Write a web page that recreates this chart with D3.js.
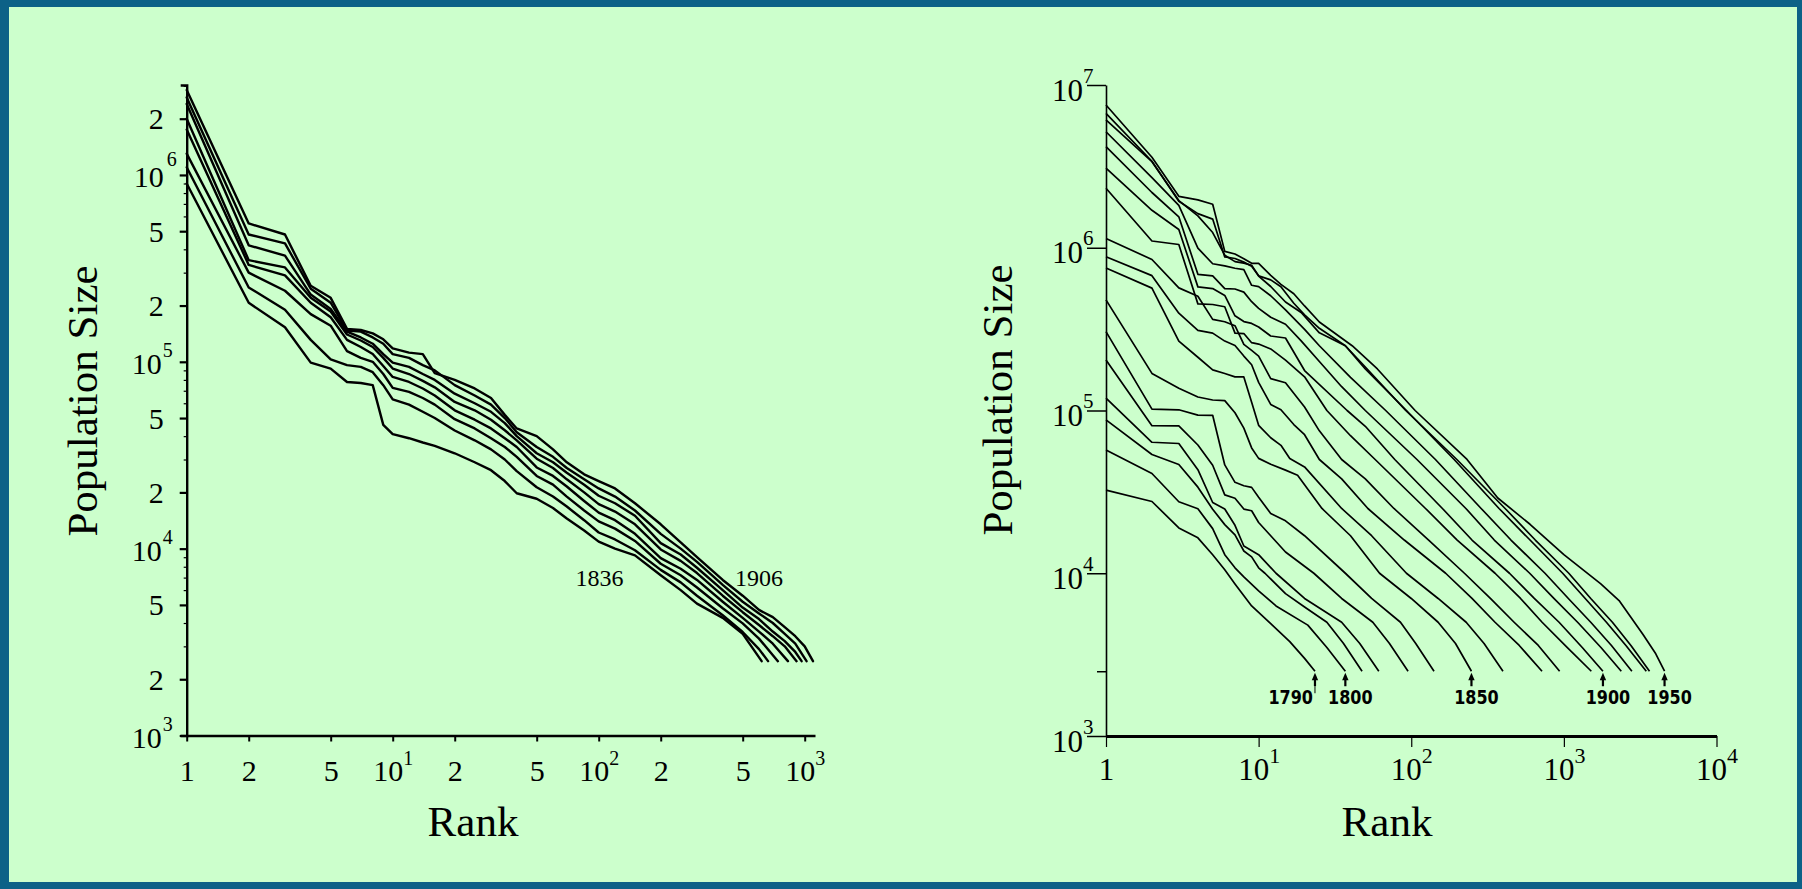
<!DOCTYPE html>
<html>
<head>
<meta charset="utf-8">
<script src="https://cdn.jsdelivr.net/npm/d3@7"></script>
<style>
html,body{margin:0;padding:0;overflow:hidden;background:#0c6187;}
svg{display:block;}
text{font-family:"Liberation Serif","Times New Roman",serif;fill:#000;}
</style>
</head>
<body>
<svg id="fig" width="1802" height="889"></svg>
<script>
// ---------------- LEFT PANEL DATA (rank, population) ----------------
const france1836 = [[1,9.0e5],[2,2.07e5],[3,1.53e5],[4,9.9e4],[5,9.2e4],[6,7.8e4],[7,7.7e4],[8,7.5e4],[9,4.6e4],[10,4.1e4],[12,3.9e4],[14,3.7e4],[16,3.55e4],[20,3.24e4],[25,2.9e4],[30,2.63e4],[35,2.3e4],[40,1.98e4],[50,1.85e4],[60,1.65e4],[70,1.45e4],[85,1.25e4],[100,1.09e4],[120,1.0e4],[150,9.2e3],[200,7.2e3],[250,6.0e3],[300,5.08e3],[400,4.26e3],[500,3.5e3],[618,2.5e3]];
const france1846 = [[1,1.1e6],[2,2.5e5],[3,1.9e5],[4,1.31e5],[5,1.03e5],[6,9.6e4],[7,9.4e4],[8,8.8e4],[9,7.5e4],[10,6.3e4],[12,5.9e4],[14,5.4e4],[16,5.0e4],[20,4.29e4],[25,3.8e4],[30,3.4e4],[35,3.0e4],[40,2.6e4],[50,2.13e4],[60,1.9e4],[70,1.68e4],[85,1.42e4],[100,1.22e4],[120,1.12e4],[150,9.8e3],[200,7.7e3],[250,6.6e3],[300,5.6e3],[400,4.4e3],[500,3.58e3],[600,2.9e3],[664,2.5e3]];
const france1856 = [[1,1.3e6],[2,3.0e5],[3,2.4e5],[4,1.8e5],[5,1.56e5],[6,1.14e5],[7,1.05e5],[8,1.0e5],[9,8.6e4],[10,7.25e4],[12,6.9e4],[14,6.4e4],[16,5.9e4],[20,4.93e4],[25,4.4e4],[30,3.9e4],[35,3.5e4],[40,3.1e4],[50,2.45e4],[60,2.2e4],[70,1.9e4],[85,1.6e4],[100,1.4e4],[120,1.28e4],[150,1.1e4],[200,8.3e3],[250,7.2e3],[300,6.2e3],[400,4.8e3],[500,3.98e3],[600,3.3e3],[741,2.5e3]];
const france1866 = [[1,1.75e6],[2,3.3e5],[3,2.9e5],[4,2.07e5],[5,1.73e5],[6,1.31e5],[7,1.2e5],[8,1.1e5],[9,9.5e4],[10,8.3e4],[12,7.8e4],[14,7.2e4],[16,6.6e4],[20,5.5e4],[25,4.9e4],[30,4.4e4],[35,3.9e4],[40,3.5e4],[50,2.72e4],[60,2.45e4],[70,2.15e4],[85,1.8e4],[100,1.56e4],[120,1.42e4],[150,1.2e4],[200,8.9e3],[250,7.8e3],[300,6.8e3],[400,5.2e3],[500,4.26e3],[600,3.6e3],[700,3.1e3],[829,2.5e3]];
const france1876 = [[1,2.0e6],[2,3.5e5],[3,3.2e5],[4,2.2e5],[5,1.86e5],[6,1.4e5],[7,1.3e5],[8,1.2e5],[9,1.05e5],[10,9.2e4],[12,8.6e4],[14,7.9e4],[16,7.3e4],[20,6.1e4],[25,5.5e4],[30,4.9e4],[35,4.3e4],[40,3.8e4],[50,3.03e4],[60,2.7e4],[70,2.35e4],[85,2.0e4],[100,1.73e4],[120,1.58e4],[150,1.35e4],[200,9.9e3],[250,8.6e3],[300,7.4e3],[400,5.6e3],[500,4.57e3],[600,3.9e3],[700,3.4e3],[800,3.0e3],[913,2.5e3]];
const france1886 = [[1,2.4e6],[2,4.2e5],[3,3.7e5],[4,2.29e5],[5,1.92e5],[6,1.45e5],[7,1.35e5],[8,1.25e5],[9,1.1e5],[10,9.9e4],[12,9.4e4],[14,8.6e4],[16,8.0e4],[20,6.75e4],[25,6.0e4],[30,5.4e4],[35,4.7e4],[40,4.0e4],[50,3.24e4],[60,2.9e4],[70,2.55e4],[85,2.2e4],[100,1.92e4],[120,1.75e4],[150,1.5e4],[200,1.07e4],[250,9.3e3],[300,7.9e3],[400,6.0e3],[500,4.84e3],[600,4.2e3],[700,3.6e3],[800,3.2e3],[900,2.8e3],[966,2.5e3]];
const france1896 = [[1,2.6e6],[2,4.8e5],[3,4.3e5],[4,2.46e5],[5,2.07e5],[6,1.47e5],[7,1.45e5],[8,1.35e5],[9,1.25e5],[10,1.1e5],[12,1.05e5],[14,9.6e4],[16,9.0e4],[20,7.5e4],[25,6.6e4],[30,5.9e4],[35,5.0e4],[40,4.2e4],[50,3.5e4],[60,3.1e4],[70,2.7e4],[85,2.35e4],[100,2.1e4],[120,1.9e4],[150,1.6e4],[200,1.2e4],[250,1.0e4],[300,8.5e3],[400,6.4e3],[500,5.2e3],[600,4.5e3],[700,4.0e3],[800,3.5e3],[900,3.1e3],[1021,2.5e3]];
const france1906 = [[1,2.85e6],[2,5.5e5],[3,4.8e5],[4,2.55e5],[5,2.2e5],[6,1.5e5],[7,1.48e5],[8,1.42e5],[9,1.32e5],[10,1.18e5],[12,1.12e5],[14,1.1e5],[16,8.7e4],[20,8.0e4],[25,7.2e4],[30,6.4e4],[35,5.2e4],[40,4.4e4],[50,4.0e4],[60,3.4e4],[70,2.9e4],[85,2.5e4],[100,2.3e4],[120,2.1e4],[150,1.75e4],[200,1.35e4],[250,1.08e4],[300,9.0e3],[400,6.8e3],[500,5.6e3],[600,4.7e3],[700,4.3e3],[800,3.8e3],[900,3.4e3],[1000,3.0e3],[1097,2.5e3]];

const franceYTickValues = [1e3,2e3,5e3,1e4,2e4,5e4,1e5,2e5,5e5,1e6,2e6];
const franceYTickLabels = ["10^3","2","5","10^4","2","5","10^5","2","5","10^6","2"];
const franceXTickValues = [1,2,5,10,20,50,100,200,500,1000];
const franceXTickLabels = ["1","2","5","10^1","2","5","10^2","2","5","10^3"];
const franceLabelYears = ["1836","1906"];
const franceLabelAnchors = [[101,6300],[600,6300]];

// ---------------- RIGHT PANEL DATA (rank, population) ----------------
const us1790 = [[1,32400],[2,27600],[3,19000],[4,16500],[5,13000],[6,10500],[7,8600],[9,6300],[12,4900],[16,3800],[20,3000],[23.4,2500]];
const us1800 = [[1,57200],[2,41000],[3,27500],[4,24900],[5,18800],[6,13000],[7,10800],[8,9500],[10,7800],[13,6300],[21,4800],[28,3500],[37,2500]];
const us1810 = [[1,87500],[2,53700],[3,46600],[4,33800],[5,24700],[6,19900],[7,17200],[8,13700],[9,12600],[10,10800],[11,10000],[15,7500],[20,6200],[28,5000],[36,3700],[47.6,2500]];
const us1820 = [[1,119000],[2,63800],[3,62700],[4,43300],[5,27200],[6,24800],[7,19700],[8,14700],[10,13000],[13,10000],[20,7000],[35,5000],[46,3700],[61.3,2500]];
const us1830 = [[1,204000],[2,80600],[3,80500],[4,61400],[5,46100],[6,30300],[7,28900],[8,24800],[9,24200],[10,20500],[12,17000],[15,13500],[23,10000],[35,7000],[56,5000],[72,3700],[95.3,2500]];
const us1840 = [[1,305000],[2,102000],[3,101000],[4,93700],[5,93400],[6,46300],[7,36200],[8,34500],[9,33700],[10,29300],[12,23300],[15,21000],[20,17000],[37,10000],[55,7000],[85,5000],[107,3700],[141,2500]];
const us1850 = [[1,478000],[2,169000],[3,137000],[4,121000],[5,116000],[6,115000],[7,96800],[8,77900],[9,58900],[10,50800],[12,46800],[15,43000],[18,40000],[26,25000],[40,17000],[62,10000],[100,7000],[150,5000],[195,3700],[248,2500]];
const us1860 = [[1,750000],[2,565000],[3,266700],[4,212400],[5,177800],[6,168700],[7,161000],[8,160800],[9,112200],[10,81100],[12,68000],[14,61100],[16,50700],[20,45000],[35,25000],[55,17000],[93,10000],[150,7000],[229,5000],[300,3700],[399,2500]];
const us1870 = [[1,880000],[2,674000],[3,396000],[4,311000],[5,299000],[6,267000],[7,251000],[8,216000],[9,191000],[10,149000],[12,109000],[14,101000],[17,82000],[20,71000],[25,50000],[35,38000],[52,25000],[90,16000],[168,10000],[250,7000],[354,5000],[510,3600],[719,2500]];
const us1880 = [[1,1140000],[2,847000],[3,567000],[4,503000],[5,363000],[6,351000],[7,332000],[8,255000],[9,234000],[10,216000],[12,157000],[15,148000],[20,105000],[25,75000],[35,50000],[50,38000],[77,25000],[130,16000],[223,10000],[330,7000],[472,5000],[680,3600],[938,2500]];
const us1890 = [[1,2320000],[2,1100000],[3,1047000],[4,452000],[5,448000],[6,434000],[7,299000],[8,297000],[9,261000],[10,256000],[12,239000],[15,204000],[20,161000],[28,100000],[40,70000],[58,50000],[124,25000],[200,16000],[354,10000],[520,7000],[720,5000],[1050,3500],[1513,2500]];
const us1900 = [[1,3080000],[2,1699000],[3,1294000],[4,575000],[5,561000],[6,509000],[7,382000],[8,352000],[9,343000],[10,326000],[12,287000],[15,279000],[20,176000],[38,100000],[50,80000],[78,50000],[160,25000],[250,16000],[440,10000],[640,7000],[930,5000],[1320,3500],[1803,2500]];
const us1910 = [[1,4180000],[2,2185000],[3,1549000],[4,687000],[5,671000],[6,561000],[7,558000],[8,534000],[9,466000],[10,424000],[12,374000],[15,339000],[19,268000],[25,200000],[35,140000],[50,100000],[109,50000],[228,25000],[350,16000],[597,10000],[860,7000],[1230,5000],[1750,3500],[2378,2500]];
const us1920 = [[1,5160000],[2,2700000],[3,1820000],[4,994000],[5,797000],[6,773000],[7,748000],[8,734000],[9,588000],[10,577000],[12,507000],[15,415000],[20,315000],[25,250000],[40,160000],[68,100000],[144,50000],[287,25000],[450,16000],[752,10000],[1070,7000],[1500,5000],[2050,3600],[2790,2500]];
const us1930 = [[1,6100000],[2,3380000],[3,1950000],[4,1570000],[5,1240000],[6,900000],[7,822000],[8,805000],[9,781000],[10,670000],[12,578000],[15,464000],[19,400000],[25,300000],[37,250000],[50,180000],[93,100000],[191,50000],[376,25000],[600,16000],[982,10000],[1380,7000],[1900,5000],[2550,3600],[3467,2500]];
const us1940 = [[1,6700000],[2,3400000],[3,1930000],[4,1620000],[5,1500000],[6,878000],[7,859000],[8,816000],[9,771000],[10,672000],[12,635000],[14,576000],[17,456000],[20,387000],[25,320000],[37,250000],[50,185000],[92,100000],[199,50000],[412,25000],[650,16000],[1077,10000],[1500,7000],[2080,5000],[2750,3600],[3641,2500]];
const us1950 = [[1,7530000],[2,3600000],[3,2070000],[4,1970000],[5,1850000],[6,950000],[7,915000],[8,857000],[9,802000],[10,801000],[12,677000],[14,596000],[17,522000],[20,439000],[25,350000],[41,250000],[60,180000],[106,100000],[232,50000],[369,29000],[600,20000],[1000,13000],[1746,8600],[2300,6800],[2697,5500],[3300,4200],[4000,3200],[4567,2500]];

const usYTickValues = [1e3,1e4,1e5,1e6,1e7];
const usYTickLabels = ["10^3","10^4","10^5","10^6","10^7"];
const usXTickValues = [1,10,100,1000,10000];
const usXTickLabels = ["1","10^1","10^2","10^3","10^4"];
const usMarkedYears = ["1790","1800","1850","1900","1950"];

// ---------------- DRAWING ----------------
const W = 1802, H = 889;
const svg = d3.select("#fig");
svg.append("rect").attr("width",W).attr("height",H).attr("fill","#0c6187");
svg.append("rect").attr("x",9).attr("y",7).attr("width",W-14).attr("height",H-14).attr("fill","#ccffcc");

function addPowerLabel(g, label, opts){
  if(label.indexOf("^") < 0){
    g.append("text").attr("x",opts.plainX).attr("y",opts.plainY)
      .attr("text-anchor",opts.plainAnchor).style("font-size",opts.fs+"px").text(label);
    return;
  }
  const [base, exp] = label.split("^");
  if(opts.mode === "y"){
    g.append("text").attr("x",opts.baseX).attr("y",opts.baseY).attr("text-anchor","end")
      .style("font-size",opts.fs+"px").text(base);
    g.append("text").attr("x",opts.expX).attr("y",opts.expY).attr("text-anchor","start")
      .style("font-size",opts.efs+"px").text(exp);
  } else {
    const t = g.append("text").attr("x",opts.plainX).attr("y",opts.plainY)
      .attr("text-anchor","middle").style("font-size",opts.fs+"px");
    t.append("tspan").text(base);
    t.append("tspan").attr("dy",opts.expDy).style("font-size",opts.efs+"px").text(exp);
  }
}

// ===== Left panel =====
const xL = d3.scaleLog().domain([1, 1122]).range([186.7, 815]);
const yL = d3.scaleLog().domain([1000, 3.03e6]).range([735.5, 85]);

const franceMinor = [];
[1e3,1e4,1e5,1e6].forEach(p => [3,4,6,7,8,9].forEach(m => { if(m*p <= 3.03e6) franceMinor.push(m*p); }));
const gYLm = svg.append("g").attr("transform",`translate(${xL.range()[0]},0)`)
  .call(d3.axisLeft(yL).tickValues(franceMinor).tickSize(3).tickFormat(() => ""));
gYLm.select(".domain").remove();
gYLm.selectAll(".tick line").attr("stroke","#000").attr("stroke-width",1.2);

const gYL = svg.append("g").attr("transform",`translate(${xL.range()[0]},0)`)
  .call(d3.axisLeft(yL).tickValues(franceYTickValues).tickSize(7).tickSizeOuter(6).tickFormat(() => ""));
gYL.select(".domain").attr("stroke","#000").attr("stroke-width",2.4);
gYL.selectAll(".tick line").attr("stroke","#000").attr("stroke-width",2.2);
gYL.selectAll(".tick").each(function(d,i){
  const g = d3.select(this); g.select("text").remove();
  const gap = (d === 1e6) ? 4 : 0;
  addPowerLabel(g, franceYTickLabels[i], {mode:"y", fs:30, efs:20,
    plainX:-23, plainY:10, plainAnchor:"end", baseX:-25+gap/2, baseY:12, expX:-24+gap, expY:-5-gap});
});

const gXL = svg.append("g").attr("transform",`translate(0,${yL.range()[0]})`)
  .call(d3.axisBottom(xL).tickValues(franceXTickValues).tickSize(6).tickSizeOuter(0).tickFormat(() => ""));
gXL.select(".domain").attr("stroke","#000").attr("stroke-width",2.6);
gXL.selectAll(".tick line").attr("stroke","#000").attr("stroke-width",2);
gXL.selectAll(".tick").each(function(d,i){
  const g = d3.select(this); g.select("text").remove();
  addPowerLabel(g, franceXTickLabels[i], {mode:"x", fs:30, efs:20,
    plainX:0, plainY:45.5, plainAnchor:"middle", expDy:-16});
});

const franceSeries = [france1836, france1846, france1856, france1866, france1876, france1886, france1896, france1906];
const lineL = d3.line().x(d => xL(d[0])).y(d => yL(d[1]));
svg.append("g").selectAll("path").data(franceSeries).join("path")
  .attr("d", lineL).attr("fill","none").attr("stroke","#000")
  .attr("stroke-width",2.4).attr("stroke-linejoin","round").attr("stroke-linecap","round");

svg.append("g").selectAll("text").data(franceLabelYears).join("text")
  .attr("x",(d,i) => xL(franceLabelAnchors[i][0])).attr("y",(d,i) => yL(franceLabelAnchors[i][1]))
  .attr("text-anchor","middle").style("font-size","24px").text(d => d);

svg.append("text").attr("transform","translate(96.5,401) rotate(-90)").attr("text-anchor","middle")
  .style("font-size","43px").text("Population Size");
svg.append("text").attr("x",473).attr("y",836).attr("text-anchor","middle")
  .style("font-size","43px").text("Rank");

// ===== Right panel =====
const xR = d3.scaleLog().domain([1, 1e4]).range([1106, 1716.5]);
const yR = d3.scaleLog().domain([1000, 1e7]).range([736, 85]);

const gYR2 = svg.append("g").attr("transform",`translate(${xR.range()[0]},0)`)
  .call(d3.axisLeft(yR).tickValues([2500]).tickSize(9).tickFormat(() => ""));
gYR2.select(".domain").remove();
gYR2.selectAll(".tick line").attr("stroke","#000").attr("stroke-width",1.5);

const gYR = svg.append("g").attr("transform",`translate(${xR.range()[0]},0)`)
  .call(d3.axisLeft(yR).tickValues(usYTickValues).tickSize(19).tickSizeOuter(0).tickFormat(() => ""));
gYR.select(".domain").attr("stroke","#000").attr("stroke-width",1.6);
gYR.selectAll(".tick line").attr("stroke","#000").attr("stroke-width",1.5);
gYR.selectAll(".tick").each(function(d,i){
  const g = d3.select(this); g.select("text").remove();
  addPowerLabel(g, usYTickLabels[i], {mode:"y", fs:31, efs:21,
    plainX:-24, plainY:12, plainAnchor:"end", baseX:-23, baseY:15, expX:-23, expY:-3});
});

const gXR = svg.append("g").attr("transform",`translate(0,${yR.range()[0]})`)
  .call(d3.axisBottom(xR).tickValues(usXTickValues).tickSize(11).tickSizeOuter(0).tickFormat(() => ""));
gXR.select(".domain").attr("stroke","#000").attr("stroke-width",2.8);
gXR.selectAll(".tick line").attr("stroke","#000").attr("stroke-width",1.2);
gXR.selectAll(".tick").each(function(d,i){
  const g = d3.select(this); g.select("text").remove();
  addPowerLabel(g, usXTickLabels[i], {mode:"x", fs:31, efs:22,
    plainX:0, plainY:44, plainAnchor:"middle", expDy:-17});
});

const usSeries = [us1790, us1800, us1810, us1820, us1830, us1840, us1850, us1860, us1870, us1880,
                  us1890, us1900, us1910, us1920, us1930, us1940, us1950];
const usYears = d3.range(1790, 1951, 10).map(String);
const lineR = d3.line().x(d => xR(d[0])).y(d => yR(d[1]));
svg.append("g").selectAll("path").data(usSeries).join("path")
  .attr("d", lineR).attr("fill","none").attr("stroke","#000")
  .attr("stroke-width",1.7).attr("stroke-linejoin","round");

// arrows + year labels at the ends of marked series
const marks = usMarkedYears.map(y => { const s = usSeries[usYears.indexOf(y)]; return {year:y, end:s[s.length-1]}; });
const gM = svg.append("g");
const LAB_FONT = '"DejaVu Sans",sans-serif';
marks.forEach((m,i) => {
  const x = xR(m.end[0]), y0 = yR(m.end[1]);
  gM.append("path").attr("d", `M${x},${y0+1.5} L${x-3.2},${y0+9} L${x+3.2},${y0+9} Z`).attr("fill","#000");
  gM.append("line").attr("x1",x).attr("x2",x).attr("y1",y0+7).attr("y2",y0+15).attr("stroke","#000").attr("stroke-width",2.2);
  const tx = (i === 0) ? x - 2 : x + 5;
  if(i === 0){
    gM.append("line").attr("x1",x).attr("x2",x).attr("y1",y0+15).attr("y2",y0+22).attr("stroke","#000").attr("stroke-width",1);
  }
  gM.append("text").attr("transform",`translate(${tx},${y0+33}) scale(1,1.2)`)
    .attr("text-anchor", i === 0 ? "end" : "middle")
    .style("font-family",LAB_FONT).style("font-weight","bold").style("font-size","16px").text(m.year);
});

svg.append("text").attr("transform","translate(1012,400) rotate(-90)").attr("text-anchor","middle")
  .style("font-size","43px").text("Population Size");
svg.append("text").attr("x",1387).attr("y",836).attr("text-anchor","middle")
  .style("font-size","43px").text("Rank");
</script>
</body>
</html>
